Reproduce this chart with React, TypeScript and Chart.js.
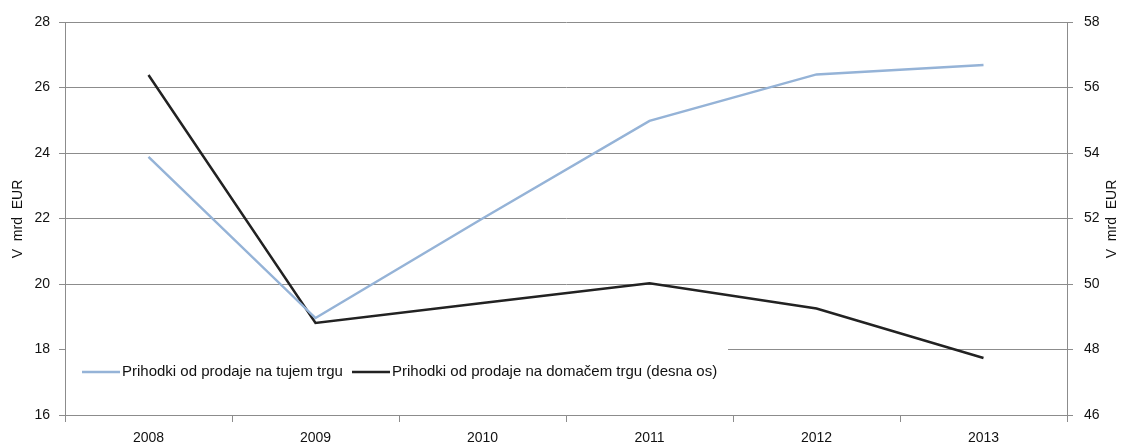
import React, { useEffect, useRef } from "react";
import { Chart, registerables } from "chart.js";

Chart.register(...registerables);

const categories = ["2008", "2009", "2010", "2011", "2012", "2013"];
const foreignSales = [23.88, 18.96, 22.0, 24.98, 26.4, 26.69];
const domesticSales = [56.38, 48.81, 49.42, 50.02, 49.25, 47.74];
const leftTicks = [16, 18, 20, 22, 24, 26, 28];
const rightTicks = [46, 48, 50, 52, 54, 56, 58];
const seriesNames = [
  "Prihodki od prodaje na tujem trgu",
  "Prihodki od prodaje na domačem trgu (desna os)",
];
const axisTitle = "V  mrd  EUR";

const FONT = "'Liberation Sans', Arial, sans-serif";
const BLUE = "#95b3d7";
const BLACK = "#222222";
const GRID = "#8c8c8c";

export default function App() {
  const ref = useRef<HTMLCanvasElement | null>(null);

  useEffect(() => {
    document.body.style.margin = "0";
    const canvas = ref.current;
    if (!canvas) return;

    const overlay = {
      id: "overlay",
      beforeDatasetsDraw(chart: any) {
        const { ctx, chartArea } = chart;
        ctx.save();
        ctx.fillStyle = "#ffffff";
        ctx.fillRect(chartArea.left + 1, 338, 728 - chartArea.left - 1, 68);
        ctx.restore();
      },
      afterDraw(chart: any) {
        const { ctx } = chart;
        ctx.save();
        // legend
        ctx.font = `15px ${FONT}`;
        ctx.textBaseline = "middle";
        ctx.textAlign = "left";
        const y = 372;
        const items = [
          { color: BLUE, name: seriesNames[0], x: 82 },
          { color: BLACK, name: seriesNames[1], x: 352 },
        ];
        for (const it of items) {
          ctx.strokeStyle = it.color;
          ctx.lineWidth = 2.5;
          ctx.beginPath();
          ctx.moveTo(it.x, y);
          ctx.lineTo(it.x + 38, y);
          ctx.stroke();
          ctx.fillStyle = "#111";
          ctx.fillText(it.name, it.x + 40, y);
        }
        ctx.restore();
        // axis titles
        for (const x of [18, 1112]) {
          ctx.save();
          ctx.font = `14px ${FONT}`;
          ctx.textAlign = "center";
          ctx.textBaseline = "middle";
          ctx.fillStyle = "#111";
          ctx.translate(x, 219);
          ctx.rotate(-Math.PI / 2);
          ctx.fillText(axisTitle, 0, 0);
          ctx.restore();
        }
      },
    };

    const chart = new Chart(canvas, {
      type: "line",
      data: {
        labels: categories,
        datasets: [
          {
            label: seriesNames[0],
            data: foreignSales,
            borderColor: BLUE,
            backgroundColor: BLUE,
            borderWidth: 2.5,
            pointRadius: 0,
            tension: 0,
            yAxisID: "y",
          },
          {
            label: seriesNames[1],
            data: domesticSales,
            borderColor: BLACK,
            backgroundColor: BLACK,
            borderWidth: 2.5,
            pointRadius: 0,
            tension: 0,
            yAxisID: "y1",
          },
        ],
      },
      options: {
        animation: false,
        responsive: false,
        maintainAspectRatio: false,
        layout: { padding: { top: 22, left: 0, right: 0, bottom: 0 } },
        plugins: {
          legend: { display: false },
          tooltip: { enabled: false },
        },
        scales: {
          x: {
            type: "category",
            offset: true,
            grid: {
              offset: true,
              drawOnChartArea: false,
              drawTicks: true,
              tickLength: 7,
              color: GRID,
            },
            border: { color: GRID },
            ticks: {
              color: "#111",
              font: { family: FONT, size: 14 },
              padding: 8,
              maxRotation: 0,
            },
            afterFit(scale: any) {
              scale.height = 28;
            },
          },
          y: {
            position: "left",
            min: 16,
            max: 28,
            afterBuildTicks(scale: any) {
              scale.ticks = leftTicks.map((v) => ({ value: v }));
            },
            grid: { color: GRID, tickLength: 6 },
            border: { color: GRID },
            ticks: {
              color: "#111",
              font: { family: FONT, size: 14 },
              padding: 9,
            },
            afterFit(scale: any) {
              scale.width = 65;
            },
          },
          y1: {
            position: "right",
            min: 46,
            max: 58,
            afterBuildTicks(scale: any) {
              scale.ticks = rightTicks.map((v) => ({ value: v }));
            },
            grid: { color: GRID, tickLength: 6, drawOnChartArea: false },
            border: { color: GRID },
            ticks: {
              color: "#111",
              font: { family: FONT, size: 14 },
              padding: 11,
            },
            afterFit(scale: any) {
              scale.width = 59;
            },
          },
        },
      },
      plugins: [overlay],
    });

    return () => chart.destroy();
  }, []);

  return (
    <div style={{ position: "absolute", left: 0, top: 0, width: 1126, height: 443 }}>
      <canvas ref={ref} width={1126} height={443} style={{ width: 1126, height: 443 }} />
    </div>
  );
}
